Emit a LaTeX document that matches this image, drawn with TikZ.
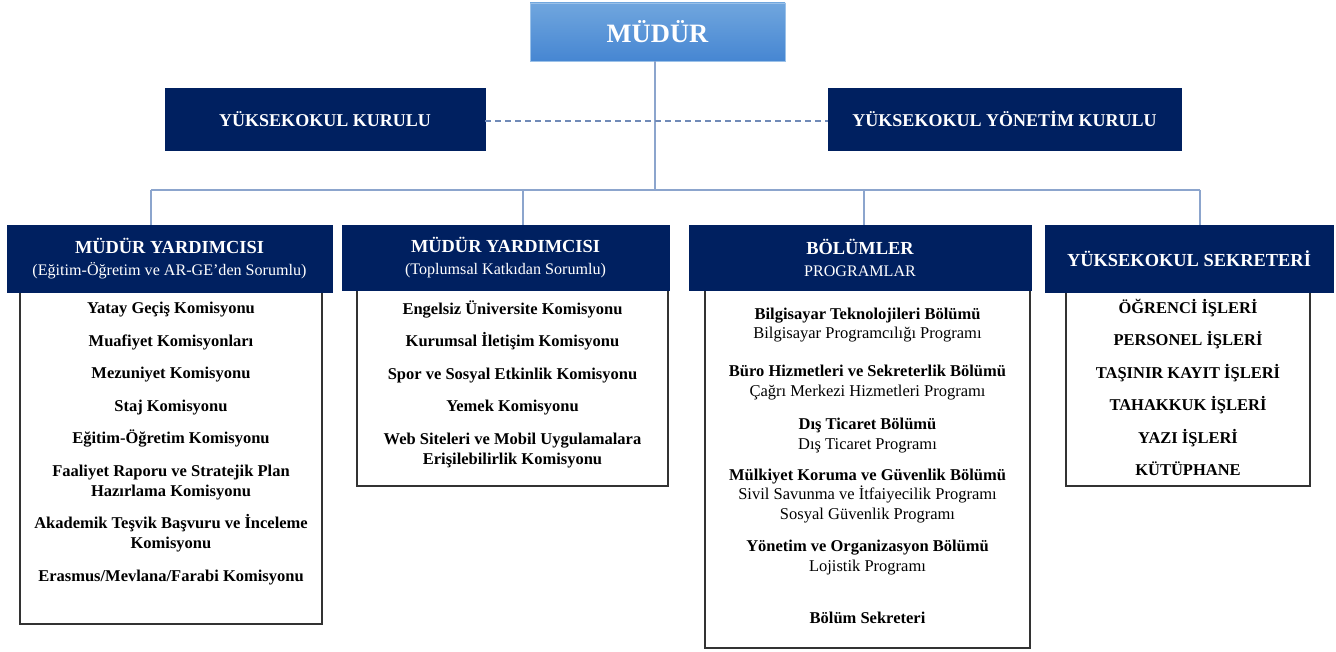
\documentclass[tikz,border=0pt]{standalone}
\usepackage{fontspec}
\setmainfont{Liberation Serif}
\usetikzlibrary{positioning,calc}
\definecolor{navy}{RGB}{0,32,96}
\definecolor{linkblue}{RGB}{140,165,205}
\definecolor{topblue}{RGB}{112,166,222}
\definecolor{lowblue}{RGB}{70,134,210}
\tikzstyle{chief} = [draw=topblue!70, top color=topblue, bottom color=lowblue, text=white, font=\fontsize{26.5}{30}\selectfont\bfseries, minimum width=255pt, minimum height=58pt, inner sep=0pt]
\tikzstyle{board} = [draw=navy, fill=navy, text=white, font=\fontsize{18}{22}\selectfont\bfseries, minimum height=62pt, inner sep=0pt]
\tikzstyle{head} = [draw=navy, fill=navy, text=white, align=center, font=\fontsize{18.4}{22}\selectfont\bfseries, inner sep=0pt]
\tikzstyle{listbox} = [draw=black!80, line width=1.4pt, inner sep=0pt]
\tikzstyle{listtext} = [anchor=north, align=center, inner sep=0pt, font=\fontsize{16.5}{19.5}\selectfont]
\tikzstyle{link} = [draw=linkblue, line width=1.2pt]
\newcommand{\subline}[1]{{\fontsize{16.1}{22}\selectfont\mdseries #1}}
\newcommand{\itemgap}{\\[12.5pt]}

\begin{document}
\begin{tikzpicture}[x=1pt, y=-1pt]
\useasboundingbox (0,0) rectangle (1336,652);
% top of the chart
\node[chief] (mudur) at (657.5,32) {MÜDÜR};
\node[board, minimum width=320pt] (kurul) at (325,119) {YÜKSEKOKUL KURULU};
\node[board, minimum width=353pt] (yonetim) at (1004.5,119) {YÜKSEKOKUL YÖNETİM KURULU};
% list frames
\node[listbox, minimum width=302pt, minimum height=332pt] (box1) at (171,458) {};
\node[listbox, minimum width=311pt, minimum height=196pt] (box2) at (512.5,388) {};
\node[listbox, minimum width=325pt, minimum height=358pt] (box3) at (867.5,469) {};
\node[listbox, minimum width=244pt, minimum height=194pt] (box4) at (1188,389) {};
% heads
\node[head, minimum width=325pt, minimum height=67pt] (yard1) at (169.5,258.5)
  {MÜDÜR YARDIMCISI\\\subline{(Eğitim-Öğretim ve AR-GE’den Sorumlu)}};
\node[head, minimum width=327pt, minimum height=65pt] (yard2) at (505.5,257.5)
  {MÜDÜR YARDIMCISI\\\subline{(Toplumsal Katkıdan Sorumlu)}};
\node[head, minimum width=342pt, minimum height=65pt] (bolum) at (860,257.5)
  {BÖLÜMLER\\\subline{PROGRAMLAR}};
\node[head, minimum width=288pt, minimum height=67pt] (sekreter) at (1189,258.5)
  {YÜKSEKOKUL SEKRETERİ};
% list texts
\node[listtext, font=\fontsize{16.5}{20}\selectfont\bfseries] (list1) at (171,302) {
Yatay Geçiş Komisyonu\itemgap
Muafiyet Komisyonları\itemgap
Mezuniyet Komisyonu\itemgap
Staj Komisyonu\itemgap
Eğitim-Öğretim Komisyonu\itemgap
Faaliyet Raporu ve Stratejik Plan\\
Hazırlama Komisyonu\itemgap
Akademik Teşvik Başvuru ve İnceleme\\
Komisyonu\itemgap
Erasmus/Mevlana/Farabi Komisyonu};
\node[listtext, font=\fontsize{16.5}{20}\selectfont\bfseries] (list2) at (512.5,300.5) {
Engelsiz Üniversite Komisyonu\itemgap
Kurumsal İletişim Komisyonu\itemgap
Spor ve Sosyal Etkinlik Komisyonu\itemgap
Yemek Komisyonu\itemgap
Web Siteleri ve Mobil Uygulamalara\\
Erişilebilirlik Komisyonu};
\node[listtext] (list3) at (867.5,307.5) {
\textbf{Bilgisayar Teknolojileri Bölümü}\\
Bilgisayar Programcılığı Programı\\[18.5pt]
\textbf{Büro Hizmetleri ve Sekreterlik Bölümü}\\
Çağrı Merkezi Hizmetleri Programı\\[14pt]
\textbf{Dış Ticaret Bölümü}\\
Dış Ticaret Programı\\[11.5pt]
\textbf{Mülkiyet Koruma ve Güvenlik Bölümü}\\
Sivil Savunma ve İtfaiyecilik Programı\\
Sosyal Güvenlik Programı\\[13pt]
\textbf{Yönetim ve Organizasyon Bölümü}\\
Lojistik Programı\\[32.5pt]
\textbf{Bölüm Sekreteri}};
\node[listtext, font=\fontsize{16.5}{20}\selectfont\bfseries] (list4) at (1188,298.5) {
ÖĞRENCİ İŞLERİ\itemgap
PERSONEL İŞLERİ\itemgap
TAŞINIR KAYIT İŞLERİ\itemgap
TAHAKKUK İŞLERİ\itemgap
YAZI İŞLERİ\itemgap
KÜTÜPHANE};
% connectors
\coordinate (hub) at (655,190);
\coordinate (bus1) at (151,190);
\coordinate (bus2) at (523,190);
\coordinate (bus3) at (864,190);
\coordinate (bus4) at (1200,190);
\draw[link] (mudur.south -| hub) -- (hub);
\draw[link] (bus1) -- (bus4);
\draw[link] (bus1) -- (bus1 |- yard1.north);
\draw[link] (bus2) -- (bus2 |- yard2.north);
\draw[link] (bus3) -- (bus3 |- bolum.north);
\draw[link] (bus4) -- (bus4 |- sekreter.north);
\draw[link, draw=linkblue!80!navy, dashed, dash pattern=on 6pt off 4pt] ([yshift=-2pt]kurul.east) -- ([yshift=-2pt]yonetim.west);
\end{tikzpicture}
\end{document}
